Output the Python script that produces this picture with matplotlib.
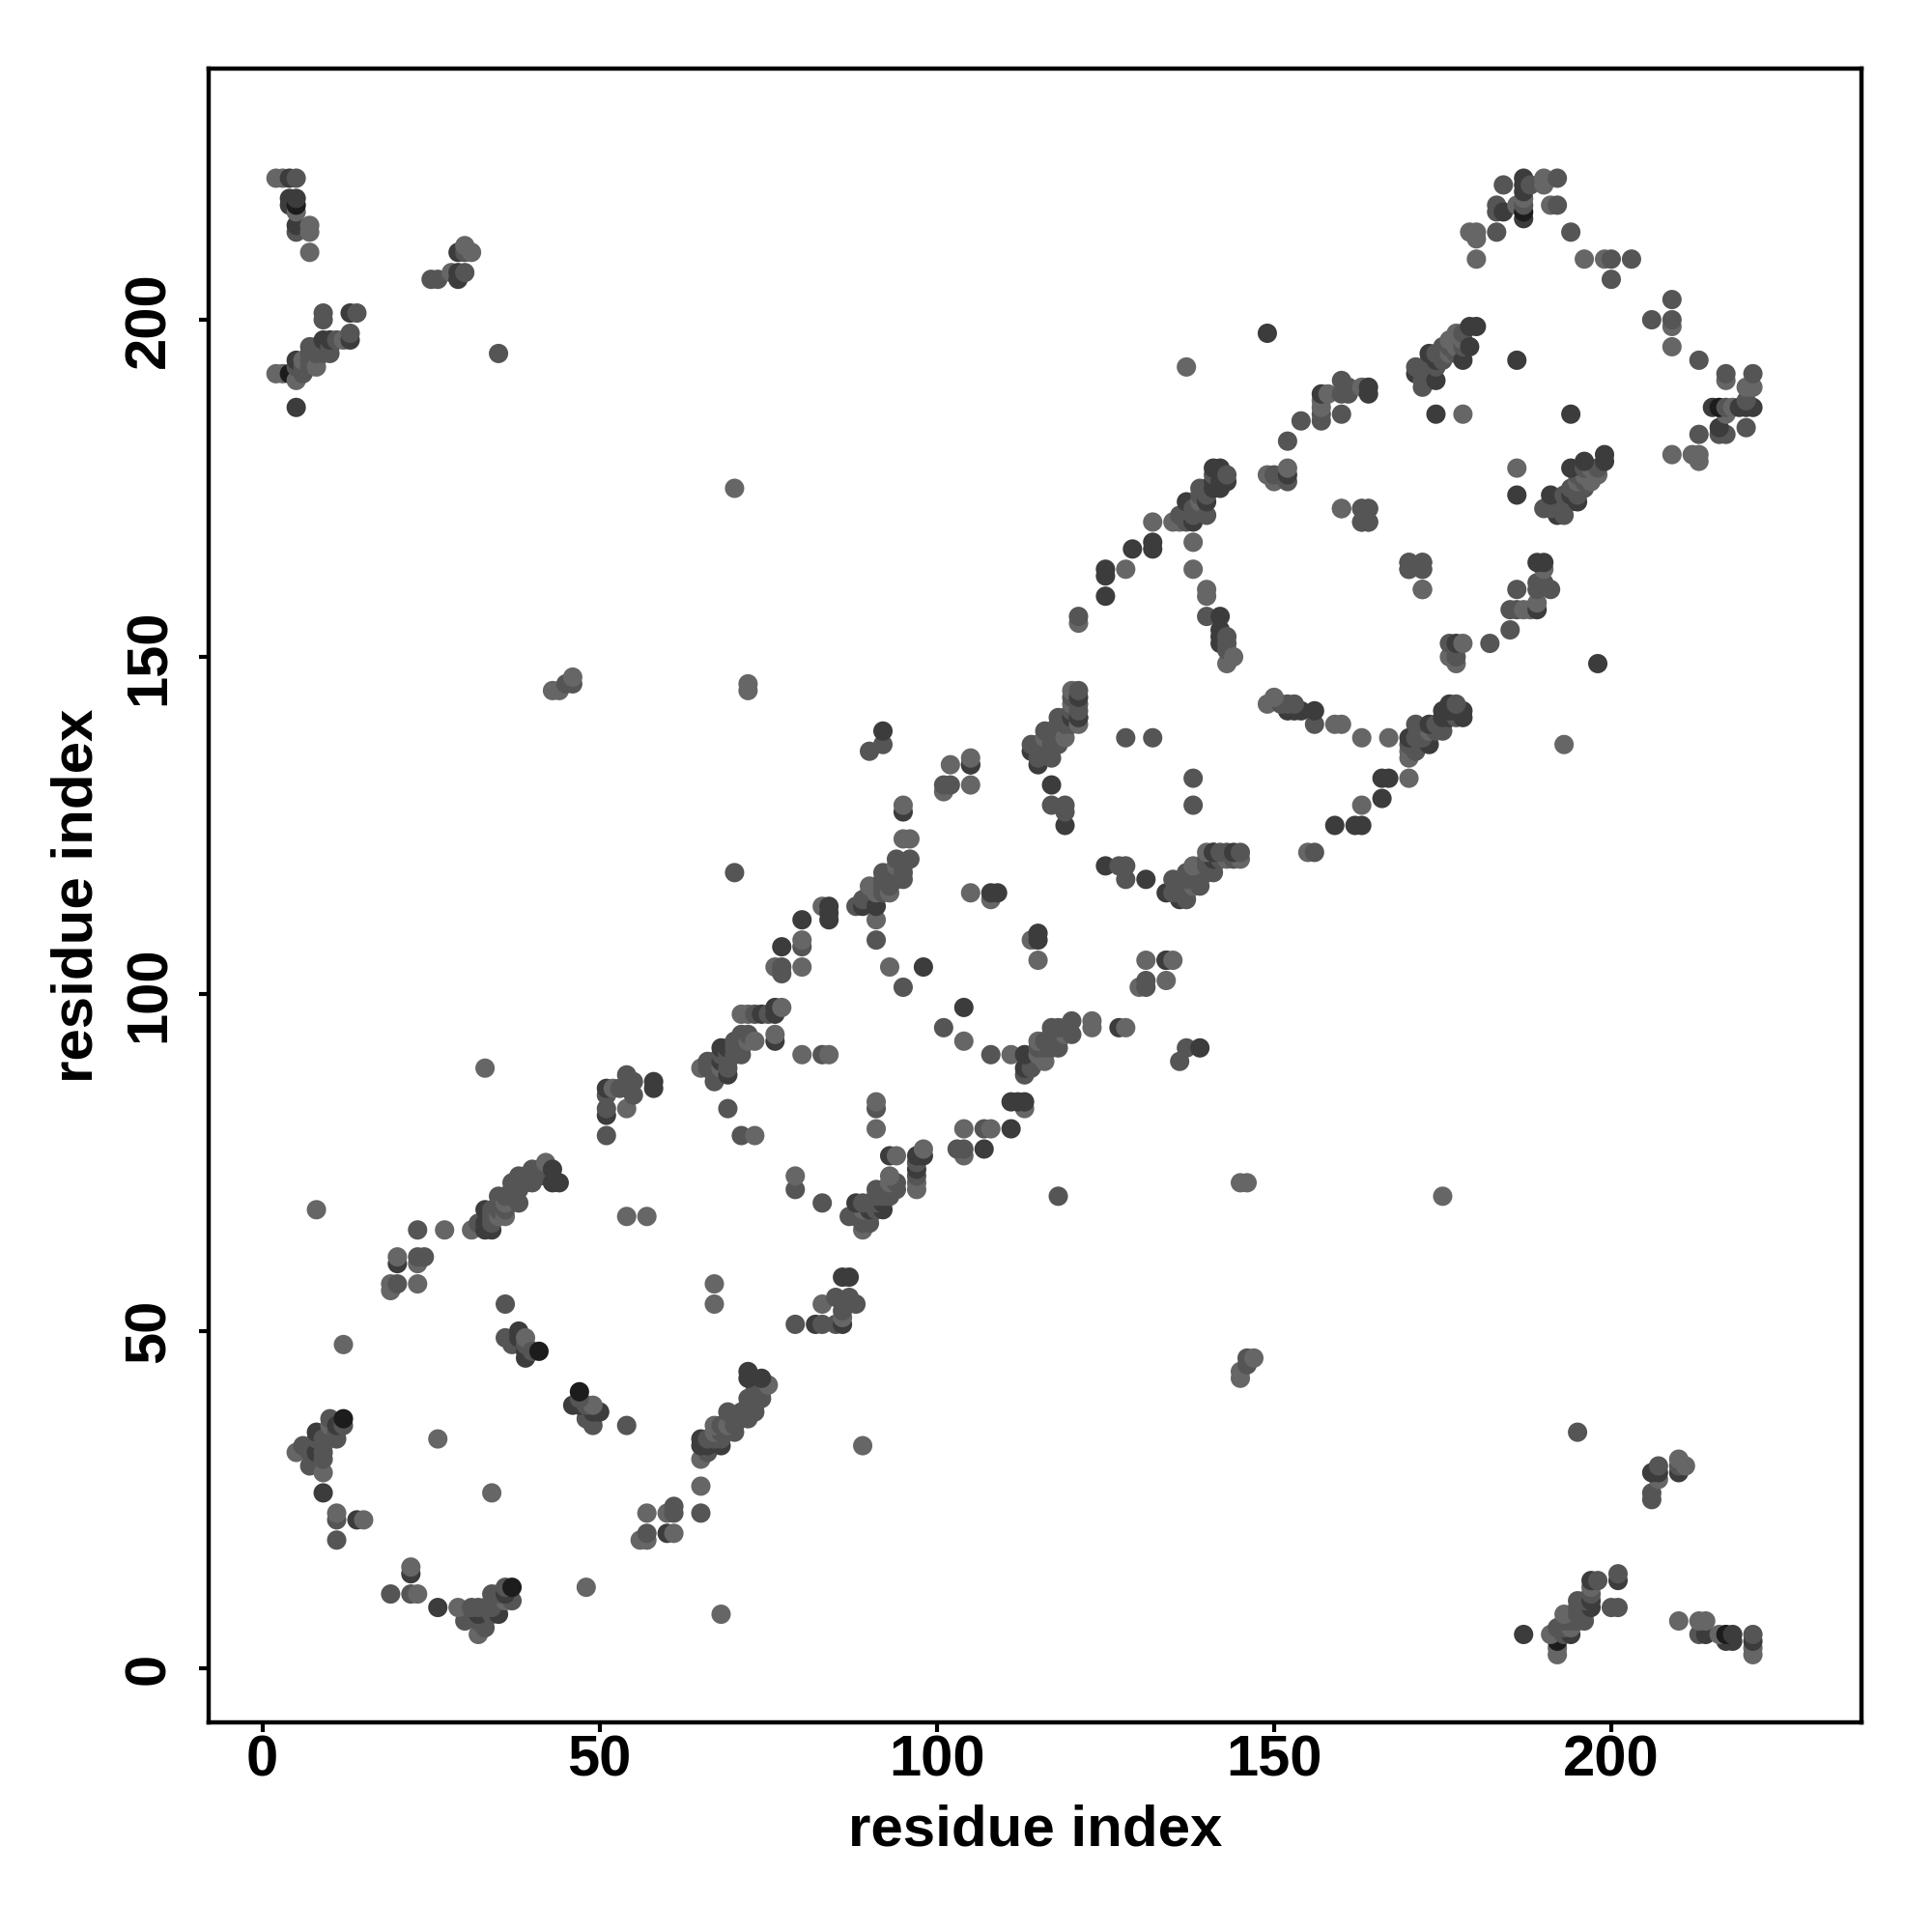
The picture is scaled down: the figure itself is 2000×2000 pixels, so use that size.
import matplotlib
matplotlib.use("Agg")
import matplotlib.pyplot as plt

plt.rcParams["font.family"] = ["Liberation Sans", "DejaVu Sans"]
plt.rcParams["font.weight"] = "bold"

# contacts as (i, j) with i < j, the map is symmetric
light_pairs = [
    (2, 221), (3, 221), (2, 192), (3, 192), (5, 216), (5, 191), (6, 194), (7, 214), (7, 213), (7, 210),
    (8, 193), (12, 197), (28, 207), (30, 211), (31, 210), (5, 32), (9, 29), (11, 23), (15, 22), (12, 48),
    (26, 34), (39, 49), (19, 56), (19, 57), (20, 61), (23, 57), (23, 60), (27, 65), (31, 65), (36, 67),
    (42, 75), (8, 68), (33, 89), (54, 67), (57, 67), (54, 83), (52, 86), (65, 89), (73, 79), (73, 93),
    (71, 97), (72, 97), (77, 98), (76, 94), (80, 91), (84, 91), (76, 104), (80, 108), (80, 104), (83, 113),
    (91, 111), (90, 116), (93, 115), (95, 128), (95, 123), (96, 123), (101, 130), (105, 131), (105, 115),
    (108, 114), (105, 135), (93, 104), (119, 138), (120, 145), (121, 140), (121, 155), (128, 163), (132, 170),
    (135, 170), (138, 167), (138, 163), (140, 160), (140, 159), (144, 150), (143, 149), (160, 172), (172, 160),
    (149, 177), (150, 176), (152, 178), (157, 188), (157, 187), (158, 189), (163, 190), (177, 198), (176, 197),
    (178, 197), (178, 186), (186, 217), (190, 221), (190, 220), (191, 217), (179, 213), (180, 213), (180, 212),
    (180, 209), (196, 209), (199, 209), (187, 218), (70, 175), (137, 193), (72, 145), (72, 146), (44, 145),
    (43, 145), (46, 147), (102, 134), (35, 67), (36, 69), (10, 36), (91, 115), (94, 119), (68, 89), (72, 93),
    (116, 138), (120, 143), (136, 170), (139, 173), (176, 195), (177, 196),
]
mid_pairs = [
    (5, 221), (5, 213), (9, 201), (9, 200), (14, 201), (13, 198), (7, 196), (8, 196), (10, 195), (6, 192),
    (5, 193), (7, 194), (35, 195), (25, 206), (26, 206), (30, 207), (30, 210), (6, 33), (7, 30), (9, 31),
    (7, 32), (9, 33), (9, 34), (10, 35), (10, 37), (11, 34), (12, 36), (11, 22), (11, 19), (36, 54),
    (36, 49), (37, 48), (39, 48), (40, 47), (23, 61), (24, 61), (20, 57), (23, 65), (32, 66), (34, 67),
    (34, 66), (35, 68), (35, 70), (36, 70), (38, 69), (37, 72), (38, 73), (38, 71), (39, 72), (40, 74),
    (40, 72), (41, 74), (42, 73), (51, 79), (51, 83), (51, 85), (53, 86), (54, 88), (55, 85), (55, 87),
    (69, 83), (71, 79), (66, 90), (66, 89), (67, 87), (69, 89), (71, 91), (71, 94), (72, 94), (71, 93),
    (70, 92), (73, 97), (75, 97), (83, 91), (77, 104), (77, 103), (80, 107), (70, 118), (88, 113), (91, 108),
    (90, 114), (92, 118), (92, 116), (94, 120), (95, 119), (95, 117), (96, 120), (93, 118), (102, 131),
    (101, 131), (117, 128), (105, 134), (90, 136), (92, 137), (95, 101), (114, 137), (115, 135),
    (116, 139), (116, 137), (117, 135), (117, 139), (118, 141), (121, 141), (121, 142), (119, 128), (119, 127),
    (121, 156), (136, 171), (138, 171), (139, 175), (140, 171), (140, 156), (143, 153), (143, 152), (143, 151),
    (128, 138), (132, 138), (163, 172), (164, 172), (163, 170), (164, 170), (170, 164), (170, 163), (172, 164),
    (172, 163), (160, 191), (160, 189), (161, 189), (161, 190), (154, 185), (157, 186), (157, 185), (160, 186),
    (152, 182), (152, 176), (150, 177), (177, 195), (175, 195), (173, 193), (171, 193), (172, 190), (173, 191),
    (178, 196), (184, 220), (183, 217), (183, 216), (183, 213), (192, 221), (192, 217), (194, 213), (188, 220),
    (200, 209), (203, 209), (200, 206), (187, 217), (45, 146), (46, 146), (174, 195),
    (36, 68), (37, 70), (37, 71), (38, 72), (39, 73), (41, 73), (34, 68), (9, 32), (11, 35), (8, 34),
    (89, 114), (90, 115), (92, 115), (92, 117), (93, 116), (93, 117), (94, 117), (94, 118), (95, 118),
    (67, 88), (68, 91), (69, 90), (69, 91), (70, 91), (70, 93), (71, 92), (67, 90),
    (115, 136), (116, 136), (117, 137), (118, 137), (118, 139), (119, 140), (119, 141), (120, 140), (120, 142),
    (120, 144), (121, 143), (121, 145), (118, 140), (115, 137), (117, 138),
    (137, 170), (138, 172), (139, 172), (139, 174), (140, 174), (140, 175), (141, 177), (143, 177),
    (172, 192), (172, 191), (173, 192), (174, 193), (175, 194), (176, 196), (175, 196), (178, 198), (173, 194),
    (6, 193), (7, 195), (8, 195), (9, 196), (10, 196), (11, 197), (9, 195), (7, 193),
]
dark_pairs = [
    (4, 221), (4, 218), (5, 218), (4, 217), (5, 214), (13, 201), (13, 197), (10, 197), (9, 197), (5, 194),
    (5, 187), (29, 206), (29, 207), (29, 210), (8, 35), (8, 32), (9, 26), (11, 36), (14, 22), (38, 50),
    (38, 49), (39, 46), (39, 47), (20, 60), (33, 65), (34, 65), (33, 68), (33, 66), (43, 74), (43, 72),
    (44, 72), (51, 82), (51, 86), (58, 87), (58, 86), (68, 92), (69, 92), (68, 90), (69, 88), (74, 97),
    (76, 98), (76, 97), (76, 93), (77, 107), (80, 111), (84, 113), (84, 111), (84, 112), (89, 113), (91, 113),
    (95, 127), (98, 104), (108, 115), (109, 115), (92, 139), (117, 131), (105, 134), (114, 136), (119, 125),
    (115, 134), (121, 144), (120, 141), (121, 141), (125, 163), (125, 162), (125, 159), (129, 166), (132, 167),
    (132, 166), (137, 173), (138, 170), (141, 175), (142, 175), (143, 176), (142, 176), (140, 173), (142, 156),
    (142, 154), (142, 153), (142, 152), (157, 189), (164, 190), (164, 189), (152, 177), (173, 195), (174, 191),
    (171, 192), (174, 194), (179, 199), (180, 199), (179, 196), (178, 194), (174, 186), (186, 194), (184, 216),
    (187, 219), (187, 215), (149, 198), (187, 221), (187, 220), (141, 176), (142, 177), (142, 178), (141, 178),
]
black_pairs = [(5, 217), (4, 192), (12, 37), (41, 47), (187, 216)]

light_gray = "#666666"
mid_gray = "#555555"
dark_gray = "#3c3c3c"
black_gray = "#1c1c1c"
tick_values = [0, 50, 100, 150, 200]
axis_label = "residue index"

rows = []
for pairs, colour in [(light_pairs, light_gray), (mid_pairs, mid_gray), (dark_pairs, dark_gray), (black_pairs, black_gray)]:
    for i, j in pairs:
        rows.append((i, j, colour))
rows.sort(key=lambda r: (r[0], r[1]))

x_values = [r[0] for r in rows] + [r[1] for r in rows]
y_values = [r[1] for r in rows] + [r[0] for r in rows]
colours = [r[2] for r in rows] * 2

fig = plt.figure(figsize=(10, 10), dpi=200)
ax = fig.add_axes([0.1078, 0.1085, 0.8557, 0.8558])
ax.scatter(x_values, y_values, s=52, c=colours, linewidths=0, zorder=3)
ax.set_xlim(-8.04, 237.1)
ax.set_ylim(-8.04, 237.2)
ax.set_xticks(tick_values)
ax.set_yticks(tick_values)
ax.tick_params(axis="x", length=3.5, width=1.5, labelsize=21.5, pad=1)
ax.tick_params(axis="y", length=3.5, width=1.5, labelsize=21.5, pad=8.5)
for label in ax.get_yticklabels():
    label.set_rotation(90)
    label.set_va("center")
for spine in ax.spines.values():
    spine.set_linewidth(1.6)
ax.set_xlabel(axis_label, fontsize=21.6, fontweight="bold", labelpad=6)
ax.set_ylabel(axis_label, fontsize=21.6, fontweight="bold", labelpad=7)
fig.savefig("out.png", dpi=200)
